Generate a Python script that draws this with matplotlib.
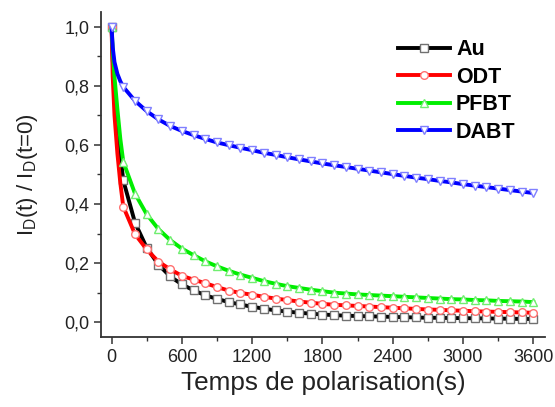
import matplotlib.pyplot as plt
from matplotlib.ticker import MultipleLocator, FuncFormatter

plt.rcParams['font.family'] = ['Liberation Sans', 'DejaVu Sans']

# time (s): a few early points for the steep drop, then every 100 s
t_early = [0, 10, 25, 50, 75]
t_main = list(range(100, 3700, 100))
time = t_early + t_main

au_early = [1.0, 0.89, 0.79, 0.67, 0.565]
au = [0.480, 0.337, 0.252, 0.195, 0.155, 0.128, 0.108, 0.091, 0.079, 0.068,
      0.060, 0.052, 0.046, 0.040, 0.036, 0.032, 0.029, 0.026, 0.024, 0.022,
      0.021, 0.020, 0.019, 0.018, 0.017, 0.016, 0.015, 0.015, 0.014, 0.014,
      0.013, 0.013, 0.012, 0.012, 0.011, 0.011]

odt_early = [1.0, 0.83, 0.70, 0.57, 0.47]
odt = [0.391, 0.298, 0.246, 0.205, 0.179, 0.157, 0.144, 0.132, 0.119, 0.107,
       0.099, 0.093, 0.086, 0.080, 0.075, 0.070, 0.066, 0.062, 0.059, 0.057,
       0.055, 0.053, 0.051, 0.049, 0.047, 0.045, 0.043, 0.042, 0.040, 0.039,
       0.037, 0.036, 0.035, 0.034, 0.033, 0.032]

pfbt_early = [1.0, 0.92, 0.83, 0.72, 0.62]
pfbt = [0.543, 0.435, 0.365, 0.315, 0.278, 0.249, 0.227, 0.206, 0.189, 0.174,
        0.161, 0.150, 0.139, 0.130, 0.122, 0.116, 0.110, 0.105, 0.100, 0.097,
        0.094, 0.092, 0.090, 0.088, 0.086, 0.084, 0.082, 0.080, 0.078, 0.077,
        0.075, 0.074, 0.072, 0.071, 0.070, 0.068]

dabt_early = [1.0, 0.93, 0.88, 0.84, 0.815]
dabt = [0.796, 0.749, 0.714, 0.686, 0.664, 0.647, 0.633, 0.620, 0.608, 0.599,
        0.590, 0.582, 0.573, 0.566, 0.558, 0.551, 0.544, 0.537, 0.531, 0.525,
        0.519, 0.513, 0.507, 0.501, 0.495, 0.489, 0.484, 0.478, 0.473, 0.467,
        0.462, 0.457, 0.452, 0.447, 0.442, 0.437]

series = [
    ("Au", au_early + au, "black", "#707070", "s"),
    ("ODT", odt_early + odt, "#ff0000", "#ff7070", "o"),
    ("PFBT", pfbt_early + pfbt, "#00ee00", "#70ee70", "^"),
    ("DABT", dabt_early + dabt, "#0000ff", "#8080ff", "v"),
]

# markers at t=0 and every 100 s
marks = [0] + list(range(len(t_early), len(time)))

fig = plt.figure(figsize=(5.55, 4.07), dpi=100)
ax = fig.add_axes([0.182, 0.172, 0.800, 0.799])

for name, vals, col, edge, mk in series:
    ax.plot(time, vals, color=col, lw=2.8, marker=mk, markevery=marks,
            ms=5.5, mfc="white", mec=edge, mew=1.0, label=name)

ax.set_xlim(-90, 3700)
ax.set_ylim(-0.05, 1.05)
ax.xaxis.set_major_locator(MultipleLocator(600))
ax.xaxis.set_minor_locator(MultipleLocator(300))
ax.yaxis.set_major_locator(MultipleLocator(0.2))
ax.yaxis.set_minor_locator(MultipleLocator(0.1))
ax.yaxis.set_major_formatter(FuncFormatter(lambda v, p: f"{v:.1f}".replace(".", ",")))

for s in ["top", "right"]:
    ax.spines[s].set_visible(False)
for s in ["left", "bottom"]:
    ax.spines[s].set_linewidth(1.3)
    ax.spines[s].set_color("#333333")

ax.tick_params(which="major", direction="out", length=5, width=1.1,
               labelsize=13, colors="#333333", labelcolor="#222222")
ax.tick_params(which="minor", direction="out", length=3, width=1.0, colors="#333333")

ax.set_xlabel("Temps de polarisation(s)", fontsize=18.8, color="#222222", labelpad=4)
ax.set_ylabel(r"I$_\mathregular{D}$(t) / I$_\mathregular{D}$(t=0)", fontsize=16,
              color="#222222", labelpad=17)

leg = ax.legend(loc="upper left", bbox_to_anchor=(0.625, 0.975), frameon=False,
                prop={"weight": "bold", "size": 15.5}, handlelength=2.4,
                handletextpad=0.3, labelspacing=0.3, markerscale=1.0)

fig.savefig("out.png", dpi=100)
